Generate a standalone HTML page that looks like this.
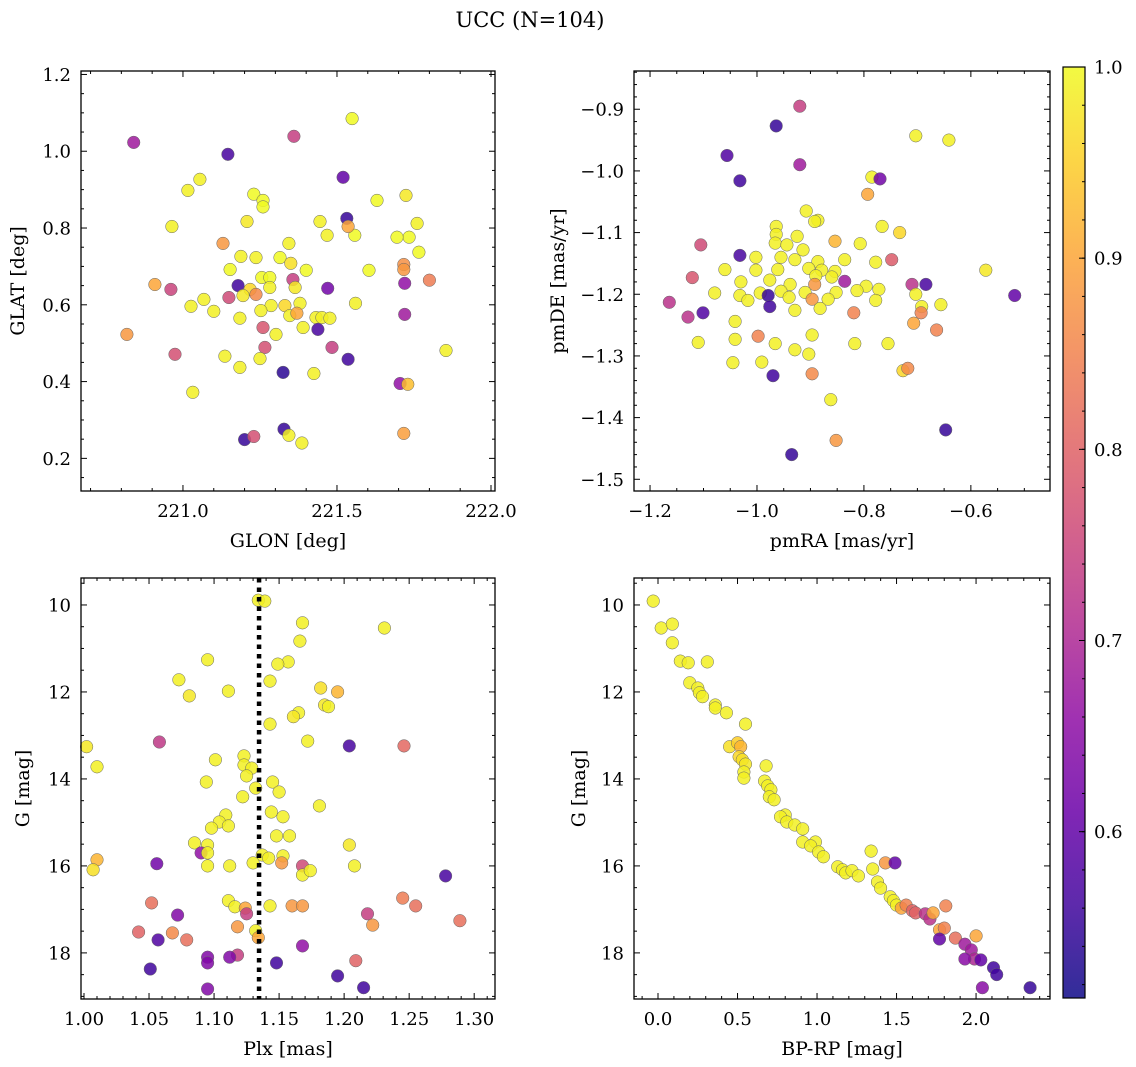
<!DOCTYPE html>
<html><head><meta charset="utf-8"><style>
html,body{margin:0;padding:0;background:#fff;}
svg{display:block;font-family:"DejaVu Serif","Liberation Serif",serif;}
</style></head><body>
<svg id="fig" width="1136" height="1067" viewBox="0 0 1136 1067" xmlns="http://www.w3.org/2000/svg">
<rect width="1136" height="1067" fill="#fff"/>
<text x="530" y="27" font-size="21" text-anchor="middle">UCC (N=104)</text>
</svg>
<script>
// Panel 1: GLON vs GLAT
const glon = [220.84,221.146,221.36,221.549,221.52,221.055,221.016,221.532,220.964,221.23,221.26,221.26,221.208,221.63,221.724,221.76,221.445,221.468,221.558,221.536,221.344,221.13,221.188,221.237,221.315,221.35,221.734,221.695,221.766,221.717,221.717,221.604,221.153,221.256,221.282,221.357,221.4,221.80,220.909,220.961,221.179,221.218,221.282,221.364,221.47,221.72,221.195,221.237,221.068,221.149,221.026,221.1,221.286,221.331,221.38,221.56,221.253,221.185,221.347,221.37,221.432,221.451,221.477,221.26,221.302,221.39,221.438,220.818,221.266,221.484,221.72,220.974,221.136,221.25,221.536,221.854,221.032,221.185,221.325,221.425,221.705,221.73,221.328,221.344,221.386,221.2,221.23,221.717];
const glat = [1.023,0.992,1.039,1.085,0.932,0.927,0.898,0.825,0.804,0.888,0.872,0.855,0.817,0.872,0.885,0.812,0.817,0.781,0.781,0.804,0.76,0.76,0.726,0.723,0.723,0.708,0.776,0.776,0.737,0.705,0.692,0.69,0.692,0.671,0.671,0.666,0.69,0.664,0.653,0.64,0.65,0.64,0.645,0.645,0.643,0.656,0.624,0.627,0.614,0.619,0.596,0.583,0.598,0.598,0.604,0.604,0.585,0.565,0.572,0.578,0.567,0.567,0.565,0.541,0.523,0.541,0.536,0.523,0.489,0.489,0.575,0.471,0.466,0.46,0.458,0.481,0.372,0.437,0.424,0.421,0.395,0.393,0.276,0.26,0.24,0.249,0.257,0.265];
const prob1 = [0.68,0.57,0.74,1.0,0.60,0.99,0.99,0.55,0.99,1.0,1.0,1.0,0.98,1.0,0.98,0.99,0.99,0.99,1.0,0.9,0.99,0.88,0.99,0.99,1.0,0.97,1.0,1.0,1.0,0.87,0.88,1.0,1.0,1.0,1.0,0.74,1.0,0.84,0.90,0.75,0.56,0.96,0.99,0.98,0.62,0.66,0.98,0.86,0.99,0.76,0.99,0.99,0.99,0.96,0.99,0.99,0.99,0.99,0.99,0.90,0.99,0.99,0.99,0.78,0.99,0.99,0.57,0.88,0.77,0.74,0.68,0.77,0.99,0.99,0.56,0.99,0.99,0.99,0.54,0.99,0.66,0.93,0.55,0.99,0.99,0.55,0.77,0.89];
// Panel 2: proper motions
const pmra = [-0.920,-0.964,-0.703,-0.641,-1.056,-0.920,-1.032,-0.785,-0.770,-0.793,-0.908,-0.886,-0.892,-0.964,-0.964,-0.925,-0.766,-0.733,-0.854,-0.966,-0.944,-1.105,-0.914,-0.807,-1.002,-1.032,-1.121,-0.955,-0.929,-0.886,-0.836,-0.778,-0.748,-1.060,-1.002,-0.961,-0.903,-0.879,-0.854,-0.572,-0.890,-0.860,-0.836,-1.030,-0.976,-0.938,-0.892,-0.796,-0.684,-0.710,-1.079,-0.994,-0.955,-0.910,-0.852,-0.813,-0.772,-0.703,-1.164,-1.032,-1.017,-0.979,-0.940,-0.897,-0.867,-0.778,-0.692,-0.656,-1.101,-1.041,-1.129,-0.976,-0.929,-0.882,-0.819,-0.707,-0.664,-0.693,-0.998,-1.041,-0.897,-0.817,-0.755,-1.110,-0.966,-0.929,-0.903,-0.991,-1.045,-0.897,-0.727,-0.718,-0.970,-0.862,-0.852,-0.647,-0.935,-0.518];
const pmde = [-0.895,-0.927,-0.943,-0.950,-0.975,-0.990,-1.016,-1.010,-1.013,-1.038,-1.065,-1.080,-1.082,-1.090,-1.103,-1.106,-1.090,-1.100,-1.114,-1.117,-1.120,-1.120,-1.128,-1.118,-1.140,-1.137,-1.173,-1.140,-1.144,-1.147,-1.144,-1.148,-1.144,-1.160,-1.161,-1.160,-1.158,-1.161,-1.163,-1.161,-1.170,-1.172,-1.179,-1.180,-1.177,-1.184,-1.184,-1.187,-1.184,-1.184,-1.198,-1.198,-1.195,-1.197,-1.197,-1.194,-1.192,-1.200,-1.213,-1.202,-1.210,-1.202,-1.205,-1.208,-1.208,-1.210,-1.220,-1.217,-1.230,-1.244,-1.237,-1.220,-1.226,-1.223,-1.230,-1.247,-1.258,-1.230,-1.268,-1.273,-1.266,-1.280,-1.280,-1.278,-1.280,-1.290,-1.297,-1.310,-1.311,-1.329,-1.324,-1.320,-1.332,-1.371,-1.437,-1.420,-1.460,-1.202];
const prob2 = [0.74,0.55,0.99,0.99,0.58,0.68,0.56,0.99,0.62,0.90,0.99,0.99,0.99,0.99,0.99,0.99,0.99,0.96,0.92,0.99,0.99,0.76,0.99,0.99,0.99,0.57,0.78,0.99,0.99,0.99,0.99,0.99,0.79,0.99,0.99,0.99,0.99,0.99,0.99,0.98,0.99,0.99,0.68,0.99,0.99,0.99,0.88,0.99,0.57,0.72,0.99,0.99,0.99,0.99,0.99,0.99,0.99,0.99,0.72,0.99,0.99,0.55,0.99,0.88,0.99,0.99,0.99,0.99,0.58,0.99,0.72,0.56,0.99,0.99,0.85,0.90,0.85,0.85,0.85,0.99,0.99,0.99,0.99,0.99,0.99,0.99,0.99,0.99,0.99,0.86,0.96,0.86,0.56,0.99,0.88,0.55,0.55,0.60];
// Panel 3: Plx vs G
const plx = [1.134,1.139,1.168,1.231,1.166,1.095,1.157,1.149,1.073,1.143,1.182,1.081,1.111,1.195,1.185,1.188,1.165,1.161,1.143,1.058,1.172,1.204,1.246,1.002,1.01,1.101,1.123,1.123,1.129,1.125,1.094,1.132,1.145,1.15,1.181,1.122,1.109,1.144,1.153,1.104,1.158,1.148,1.098,1.111,1.085,1.095,1.204,1.09,1.095,1.137,1.153,1.142,1.152,1.01,1.056,1.095,1.112,1.13,1.168,1.208,1.007,1.168,1.174,1.278,1.052,1.072,1.111,1.116,1.124,1.125,1.143,1.16,1.168,1.245,1.255,1.289,1.218,1.222,1.118,1.132,1.134,1.042,1.068,1.079,1.057,1.168,1.118,1.095,1.112,1.095,1.148,1.209,1.195,1.051,1.215,1.095];
const gmag3 = [9.89,9.91,10.41,10.53,10.83,11.26,11.31,11.36,11.72,11.75,11.91,12.09,11.98,12.0,12.3,12.34,12.48,12.57,12.74,13.15,13.13,13.24,13.24,13.26,13.72,13.56,13.47,13.68,13.75,13.93,14.07,14.21,14.07,14.3,14.62,14.41,14.83,14.76,14.87,14.99,15.31,15.31,15.13,15.08,15.47,15.52,15.52,15.7,15.7,15.75,15.77,15.82,15.93,15.86,15.95,16.0,16.0,15.93,16.0,16.0,16.09,16.21,16.11,16.23,16.85,17.13,16.8,16.94,16.97,17.1,16.92,16.92,16.92,16.74,16.92,17.26,17.1,17.36,17.4,17.49,17.65,17.52,17.54,17.7,17.7,17.84,18.05,18.1,18.1,18.23,18.23,18.18,18.53,18.37,18.8,18.83];
const prob3 = [0.99,0.99,0.99,0.99,0.99,0.99,0.99,0.99,0.99,0.99,0.97,0.98,0.99,0.92,0.98,0.99,0.99,0.98,0.99,0.73,0.99,0.57,0.81,0.98,0.99,0.99,0.99,0.99,0.99,0.99,0.99,0.99,0.99,0.99,0.99,0.99,0.99,0.99,0.99,0.99,0.99,0.99,0.99,0.99,0.99,0.99,0.98,0.66,0.99,0.99,0.99,0.99,0.88,0.92,0.62,0.99,0.99,0.99,0.76,0.99,0.97,0.99,0.99,0.57,0.82,0.64,0.99,0.99,0.9,0.74,0.99,0.88,0.88,0.84,0.82,0.82,0.74,0.88,0.88,0.99,0.9,0.8,0.86,0.82,0.58,0.66,0.74,0.64,0.64,0.64,0.56,0.8,0.56,0.56,0.56,0.64];
const plxMedian = 1.1346;
// Panel 4: BP-RP vs G
const bprp = [-0.03,0.02,0.09,0.09,0.14,0.19,0.31,0.20,0.25,0.26,0.28,0.36,0.36,0.43,0.55,0.45,0.50,0.52,0.51,0.53,0.55,0.54,0.54,0.68,0.67,0.69,0.71,0.70,0.73,0.80,0.77,0.81,0.86,0.91,0.91,0.99,0.96,1.01,1.04,1.13,1.16,1.18,1.22,1.26,1.35,1.34,1.38,1.40,1.43,1.49,1.46,1.48,1.50,1.53,1.56,1.60,1.62,1.68,1.71,1.73,1.77,1.80,1.81,1.77,1.87,1.93,1.97,2.0,1.99,1.93,2.03,2.04,2.11,2.13,2.34];
const gmag4 = [9.91,10.53,10.44,10.87,11.29,11.33,11.31,11.79,11.91,12.02,12.11,12.3,12.37,12.48,12.74,13.26,13.17,13.26,13.49,13.56,13.66,13.84,13.98,13.7,14.05,14.16,14.25,14.41,14.48,14.83,14.87,14.99,15.06,15.15,15.45,15.45,15.54,15.68,15.79,16.02,16.09,16.16,16.11,16.23,16.07,15.66,16.37,16.51,15.93,15.93,16.71,16.8,16.9,16.97,16.9,17.03,17.08,17.1,17.22,17.08,17.47,17.43,16.92,17.68,17.66,17.8,17.93,17.61,18.14,18.14,18.16,18.8,18.34,18.5,18.8];
const prob4 = [0.99,0.99,0.99,0.99,0.99,0.99,0.99,0.99,0.99,0.99,0.99,0.99,0.99,0.99,0.99,0.97,0.95,0.92,0.96,0.97,0.98,0.99,0.99,0.99,0.99,0.99,0.99,0.99,0.99,0.99,0.99,0.99,0.99,0.99,0.99,0.99,0.99,0.99,0.99,0.99,0.99,0.99,0.99,0.99,0.99,0.99,0.99,0.99,0.88,0.6,0.99,0.99,0.99,0.9,0.85,0.8,0.8,0.72,0.72,0.9,0.9,0.85,0.85,0.6,0.82,0.68,0.68,0.9,0.7,0.65,0.6,0.65,0.56,0.56,0.55];
// Colorbar
const cbTicks = [0.6,0.7,0.8,0.9,1.0];
const cMin = 0.513, cMax = 1.0;

const NS = "http://www.w3.org/2000/svg";
const svg = document.getElementById('fig');
function el(tag, attrs, parent){ const e=document.createElementNS(NS,tag); for(const k in attrs) e.setAttribute(k,attrs[k]); (parent||svg).appendChild(e); return e; }
const plasma = [[13,8,135],[65,4,157],[106,0,168],[143,13,164],[177,42,144],[204,71,120],[225,100,98],[242,132,75],[252,166,54],[252,206,37],[240,249,33]];
function cmap(v){ let t=(v-cMin)/(cMax-cMin); t=Math.max(0,Math.min(1,t)); const f=t*10, i=Math.min(9,Math.floor(f)), r=f-i; const a=plasma[i], b=plasma[i+1]; return `rgb(${Math.round(a[0]+(b[0]-a[0])*r)},${Math.round(a[1]+(b[1]-a[1])*r)},${Math.round(a[2]+(b[2]-a[2])*r)})`; }
function fmt(v,d){ const s=v.toFixed(d); return v<0? '\u2212'+s.slice(1): s; }
const TICK_FS = 18, LABEL_FS = 19;

function panel(cfg){
  const {name,x0,x1,y0,y1,xd,yd,xMaj,xMin,yMaj,yMin,xDec,yDec,xlabel,ylabel,xs,ys,cs,ylabX} = cfg;
  const sx = v => x0 + (v-xd[0])/(xd[1]-xd[0])*(x1-x0);
  const sy = v => y1 - (v-yd[0])/(yd[1]-yd[0])*(y1-y0);
  const g = el('g',{});
  
  
  const pts = el('g',{},g);
  
  
  const n = Math.min(xs.length, ys.length, cs.length);
  for(let i=0;i<n;i++){
    const c = el('circle',{cx:sx(xs[i]).toFixed(1),cy:sy(ys[i]).toFixed(1),r:6.3,fill:cmap(cs[i]),'fill-opacity':0.85,stroke:'#666','stroke-width':0.5},pts);
    
    
  }
  if(cfg.extra) cfg.extra(g,sx,sy);
  const lo = Math.min(xd[0],xd[1]), hi = Math.max(xd[0],xd[1]);
  const ylo = Math.min(yd[0],yd[1]), yhi = Math.max(yd[0],yd[1]);
  const ax = el('g',{stroke:'#000','stroke-width':1},g);
  
  
  for(let v=Math.ceil(lo/xMin-1e-6)*xMin; v<=hi+1e-9; v+=xMin){
    const px=sx(v); if(px<x0-0.5||px>x1+0.5) continue;
    const maj = Math.abs(v/xMaj-Math.round(v/xMaj))<1e-4; const L=maj?6:3;
    el('line',{x1:px,y1:y1,x2:px,y2:y1-L},ax); el('line',{x1:px,y1:y0,x2:px,y2:y0+L},ax);
    if(maj){ const t=el('text',{x:px,y:y1+26,'font-size':TICK_FS,'text-anchor':'middle',stroke:'none',fill:'#000'},g); t.textContent=fmt(v,xDec);
        }
  }
  for(let v=Math.ceil(ylo/yMin-1e-6)*yMin; v<=yhi+1e-9; v+=yMin){
    const py=sy(v); if(py<y0-0.5||py>y1+0.5) continue;
    const maj = Math.abs(v/yMaj-Math.round(v/yMaj))<1e-4; const L=maj?6:3;
    el('line',{x1:x0,y1:py,x2:x0+L,y2:py},ax); el('line',{x1:x1,y1:py,x2:x1-L,y2:py},ax);
    if(maj){ const t=el('text',{x:x0-10,y:py+6.5,'font-size':TICK_FS,'text-anchor':'end',stroke:'none',fill:'#000'},g); t.textContent=fmt(v,yDec);
        }
  }
  const fr = el('rect',{x:x0,y:y0,width:x1-x0,height:y1-y0,fill:'none',stroke:'#000','stroke-width':1.3},g);
  
  
  const xl = el('text',{x:(x0+x1)/2,y:y1+56,'font-size':LABEL_FS,'text-anchor':'middle'},g); xl.textContent=xlabel;
   
  const yl = el('text',{x:0,y:0,'font-size':LABEL_FS,'text-anchor':'middle',transform:`translate(${ylabX},${(y0+y1)/2}) rotate(-90)`},g); yl.textContent=ylabel;
   
}

panel({name:'glon-glat',x0:81,x1:495,y0:71,y1:491,xd:[220.669,222.013],yd:[0.115,1.209],xMaj:0.5,xMin:0.1,yMaj:0.2,yMin:0.05,xDec:1,yDec:1,xlabel:'GLON [deg]',ylabel:'GLAT [deg]',xs:glon,ys:glat,cs:prob1,ylabX:24});
panel({name:'pm',x0:634,x1:1050,y0:71,y1:491,xd:[-1.230,-0.452],yd:[-1.519,-0.838],xMaj:0.2,xMin:0.05,yMaj:0.1,yMin:0.02,xDec:1,yDec:1,xlabel:'pmRA [mas/yr]',ylabel:'pmDE [mas/yr]',xs:pmra,ys:pmde,cs:prob2,ylabX:564});
panel({name:'plx-g',x0:81,x1:495,y0:578,y1:999,xd:[0.9977,1.316],yd:[19.06,9.38],xMaj:0.05,xMin:0.01,yMaj:2,yMin:0.5,xDec:2,yDec:0,xlabel:'Plx [mas]',ylabel:'G [mag]',xs:plx,ys:gmag3,cs:prob3,ylabX:29,
  extra:(g,sx,sy)=>{ const l=el('line',{x1:sx(plxMedian),x2:sx(plxMedian),y1:578,y2:999,stroke:'#000','stroke-width':4.5,'stroke-dasharray':'4.5,5'},g);
      }});
panel({name:'cmd',x0:634,x1:1050,y0:578,y1:999,xd:[-0.151,2.465],yd:[19.06,9.38],xMaj:0.5,xMin:0.1,yMaj:2,yMin:0.5,xDec:1,yDec:0,xlabel:'BP-RP [mag]',ylabel:'G [mag]',xs:bprp,ys:gmag4,cs:prob4,ylabX:585});

// Colorbar
(function(){
  const cx0=1063,cx1=1085,cy0=67,cy1=998;
  const g=el('g',{});
  
  
  const defs=el('defs',{},g);
  const lg=el('linearGradient',{id:'cbg',x1:0,y1:1,x2:0,y2:0},defs);
  for(let i=0;i<=20;i++){ const v=cMin+(cMax-cMin)*i/20; el('stop',{offset:(i/20),'stop-color':cmap(v),'stop-opacity':0.85},lg); }
  el('rect',{x:cx0,y:cy0,width:cx1-cx0,height:cy1-cy0,fill:'url(#cbg)',stroke:'#000','stroke-width':1.2},g);
  const sy=v=>cy1-(v-cMin)/(cMax-cMin)*(cy1-cy0);
  for(let v=0.52; v<=1.0001; v+=0.02){ el('line',{x1:cx1,x2:cx1-3,y1:sy(v),y2:sy(v),stroke:'#000','stroke-width':1},g); }
  cbTicks.forEach(v=>{ el('line',{x1:cx1,x2:cx1-6,y1:sy(v),y2:sy(v),stroke:'#000','stroke-width':1},g);
    const t=el('text',{x:cx1+9,y:sy(v)+6.5,'font-size':TICK_FS},g); t.textContent=v.toFixed(1);
      });
})();
</script>
</body></html>
